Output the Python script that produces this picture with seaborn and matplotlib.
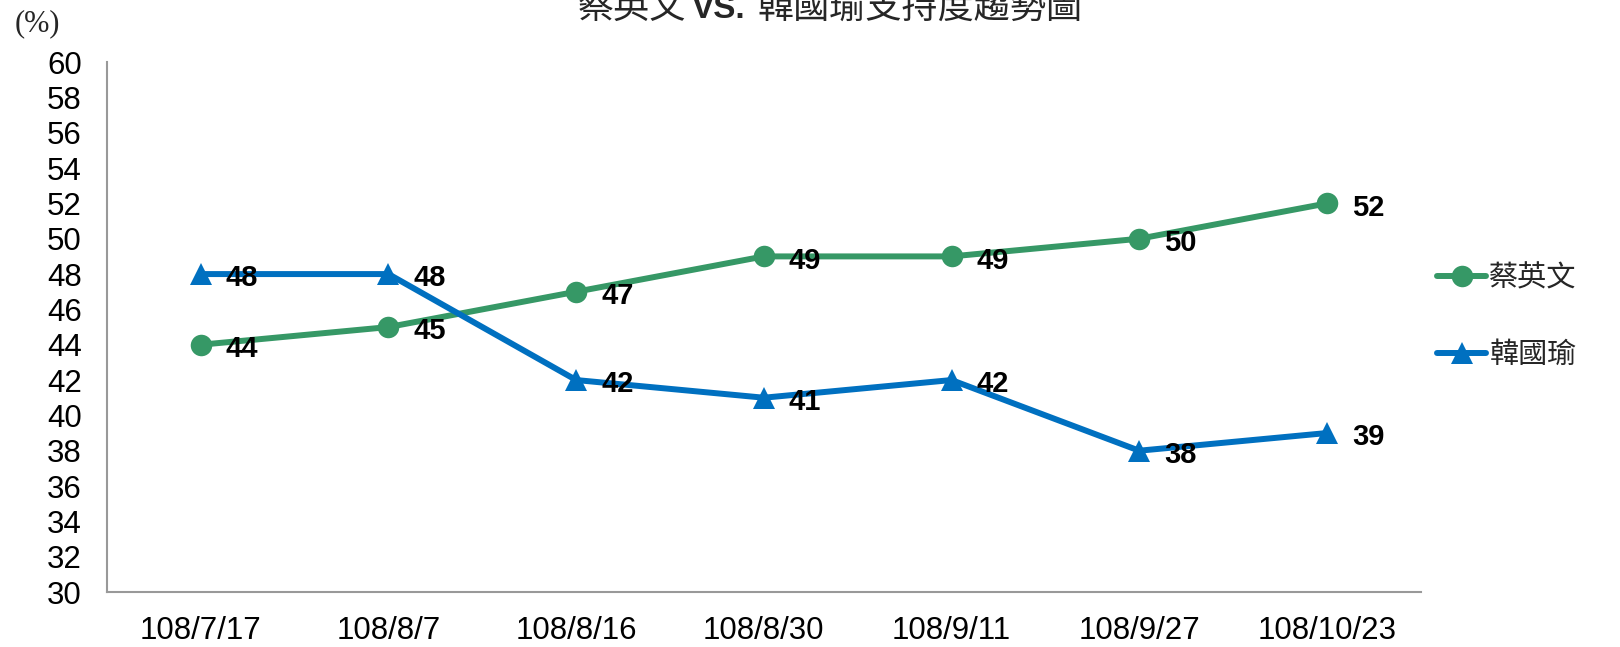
import matplotlib
matplotlib.use("Agg")
import matplotlib.pyplot as plt
import seaborn as sns
import pandas as pd

dates = ["108/7/17", "108/8/7", "108/8/16", "108/8/30", "108/9/11", "108/9/27", "108/10/23"]
tsai = [44, 45, 47, 49, 49, 50, 52]
han = [48, 48, 42, 41, 42, 38, 39]
series_names = ["蔡英文", "韓國瑜"]
yticks = list(range(30, 61, 2))

sns.set_theme(style="white")
plt.rcParams["font.family"] = ["Liberation Sans", "Noto Sans CJK TC", "DejaVu Sans"]

df = pd.DataFrame({
    "date": dates * 2,
    "value": tsai + han,
    "who": [series_names[0]] * len(dates) + [series_names[1]] * len(dates),
})

palette = {"蔡英文": "#369866", "韓國瑜": "#0070C0"}
markers = {"蔡英文": "o", "韓國瑜": "^"}

fig = plt.figure(figsize=(16.2, 6.47), dpi=100)
ax = fig.add_axes([0.066, 0.085, 0.811, 0.819])

sns.lineplot(data=df, x="date", y="value", hue="who", style="who",
             palette=palette, markers=markers, dashes=False, sort=False,
             linewidth=4.3, markersize=15.5, markeredgewidth=0, ax=ax)

ax.set_xlim(-0.5, len(dates) - 0.5)
ax.set_ylim(30, 60)
ax.set_yticks(yticks)
ax.set_xlabel("")
ax.set_ylabel("")
ax.tick_params(axis="both", length=0, labelsize=22.5, colors="black")
ax.tick_params(axis="x", pad=17)
ax.tick_params(axis="y", pad=18)
for s in ["top", "right"]:
    ax.spines[s].set_visible(False)
for s in ["left", "bottom"]:
    ax.spines[s].set_color("#999999")
    ax.spines[s].set_linewidth(1.5)

for vals in (tsai, han):
    for i, v in enumerate(vals):
        ax.annotate(str(v), (i, v), xytext=(18, -3), textcoords="offset points",
                    ha="left", va="center", fontsize=21, fontweight="bold",
                    family="Liberation Sans", color="black")

handles, labels = ax.get_legend_handles_labels()
leg = ax.legend(handles, labels, loc="center left", bbox_to_anchor=(1.0, 0.52),
                frameon=False, handlelength=1.7, labelspacing=1.6,
                handletextpad=0.1, borderaxespad=0.15,
                prop={"family": ["Noto Sans CJK TC"], "size": 21})
for line in leg.get_lines():
    line.set_linewidth(4.3)

fig.text(37 / 1620, 1 - 24 / 647, "(%)", fontsize=22, family="Liberation Serif",
         ha="center", va="center")

# Title with bold "VS." (partially cropped at top like the reference)
renderer = fig.canvas.get_renderer()
parts = [("蔡英文", "normal", ["Noto Sans CJK TC"], 26, 6),
         ("VS.", "bold", ["Liberation Sans"], 24, 12),
         ("韓國瑜支持度趨勢圖", "normal", ["Noto Sans CJK TC"], 26, 0)]
texts = []
for s, w, fam, size, gap in parts:
    t = fig.text(0, 0, s, fontsize=size, fontweight=w, family=fam, va="baseline", ha="left")
    texts.append((t, gap))
widths = [t.get_window_extent(renderer).width for t, g in texts]
total = sum(widths) + sum(g for t, g in texts)
cx = 830
x0 = cx - total / 2
ybase = 647 - 18
for (t, gap), w in zip(texts, widths):
    t.set_position((x0 / 1620, ybase / 647))
    x0 += w + gap

fig.savefig("out.png", dpi=100)
